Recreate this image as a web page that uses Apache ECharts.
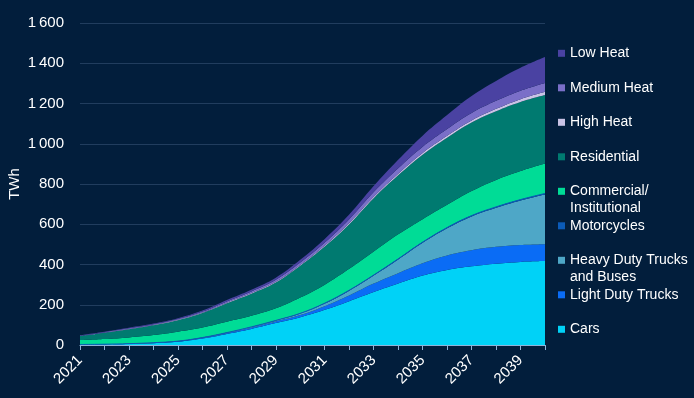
<!DOCTYPE html>
<html>
<head>
<meta charset="utf-8">
<script src="https://cdn.jsdelivr.net/npm/echarts@6/dist/echarts.min.js"></script>
<style>
html,body{margin:0;padding:0;background:#021e3c;}
#chart{width:694px;height:398px;}
</style>
</head>
<body>
<div id="chart"></div>
<script>
const years = ['2021','2022','2023','2024','2025','2026','2027','2028','2029','2030','2031','2032','2033','2034','2035','2036','2037','2038','2039','2040'];
const yTicks = [0, 200, 400, 600, 800, 1000, 1200, 1400, 1600];

const cars            = [2, 3, 5, 9, 16, 32, 55, 80, 109, 138, 175, 218, 263, 305, 345, 373, 391, 404, 413, 417];
const lightDutyTrucks = [0.3, 0.5, 1, 1.5, 2, 3, 4, 6, 8, 11, 18, 28, 42, 52, 61, 72, 80, 84, 84, 84];
const heavyDutyTrucks = [0.2, 0.3, 0.5, 0.7, 1, 1.5, 2, 3, 4, 7, 13, 24, 40, 68, 102, 135, 168, 194, 221, 247];
const motorcycles     = [0.1, 0.1, 0.2, 0.3, 0.4, 0.5, 0.7, 1, 1.2, 1.5, 2, 2.3, 2.7, 3, 3.3, 3.6, 4, 4.3, 4.6, 5];
const commercial      = [22, 26, 31, 38, 47, 50, 54, 55, 60, 78, 92, 106, 117, 122, 114, 113, 122, 134, 142, 149];
const residential     = [20, 31, 41, 49, 57, 72, 92, 110, 128, 158, 189, 222, 265, 293, 320, 333, 340, 341, 343, 340];
const highHeat        = [0.5, 0.5, 1, 1, 1.5, 2, 2.5, 3, 3.5, 4, 5, 6, 7, 8, 9, 10, 11, 12, 14, 16];
const mediumHeat      = [2, 2.5, 3, 3.5, 4, 5, 6.5, 8, 10, 12, 15, 19, 23, 27, 31, 34, 37, 40, 42, 44];
const lowHeat         = [2, 2.5, 3, 3.5, 4, 5, 7, 9, 11, 14, 18, 23, 30, 42, 55, 69, 84, 99, 114, 129];

const seriesDefs = [
  {name: 'Cars', data: cars, color: '#00d2f7', legend: 'Cars'},
  {name: 'Light Duty Trucks', data: lightDutyTrucks, color: '#0a6cf5', legend: 'Light Duty Trucks'},
  {name: 'Heavy Duty Trucks and Buses', data: heavyDutyTrucks, color: '#4ea7c7', legend: '\nHeavy Duty Trucks\nand Buses'},
  {name: 'Motorcycles', data: motorcycles, color: '#0b5bb8', legend: 'Motorcycles', line: 1},
  {name: 'Commercial/Institutional', data: commercial, color: '#00dc96', legend: '\nCommercial/\nInstitutional'},
  {name: 'Residential', data: residential, color: '#007a70', legend: 'Residential'},
  {name: 'High Heat', data: highHeat, color: '#c9c3e6', legend: 'High Heat'},
  {name: 'Medium Heat', data: mediumHeat, color: '#7a6fc8', legend: 'Medium Heat'},
  {name: 'Low Heat', data: lowHeat, color: '#4a42a2', legend: 'Low Heat'}
];

const FONT = 'Arial, "Liberation Sans", sans-serif';

const legendOrder = ['Low Heat','Medium Heat','High Heat','Residential','Commercial/Institutional','Motorcycles','Heavy Duty Trucks and Buses','Light Duty Trucks','Cars'];
const legends = legendOrder.map((name, i) => {
  const def = seriesDefs.find(d => d.name === name);
  const center = 53.3 + i * 34.5;
  const lines = def.legend.split('\n').length;
  return {
    data: [{name: name, icon: 'rect'}],
    orient: 'vertical',
    left: 558,
    top: center - lines * 8.5,
    padding: 0,
    itemWidth: 7,
    itemHeight: 7,
    selectedMode: false,
    formatter: () => def.legend,
    textStyle: {
      color: '#ffffff',
      fontSize: 14,
      fontFamily: FONT,
      lineHeight: 17
    }
  };
});

const chart = echarts.init(document.getElementById('chart'));
chart.setOption({
  backgroundColor: '#021e3c',
  animation: false,
  grid: {left: 80, right: 149, top: 23, bottom: 53, containLabel: false, outerBoundsMode: 'none'},
  legend: legends,
  xAxis: {
    type: 'category',
    data: years,
    boundaryGap: false,
    axisLine: {lineStyle: {color: '#8fb3d9', width: 1}},
    axisTick: {show: true, interval: 0, length: 5, lineStyle: {color: '#8fb3d9'}},
    axisLabel: {interval: 1, rotate: 45, margin: 13, color: '#ffffff', fontSize: 15, fontFamily: FONT},
    splitLine: {show: false}
  },
  yAxis: {
    type: 'value',
    min: yTicks[0],
    max: yTicks[yTicks.length - 1],
    interval: 200,
    name: 'TWh',
    nameLocation: 'middle',
    nameGap: 58,
    nameMoveOverlap: false,
    nameTextStyle: {color: '#ffffff', fontSize: 15, fontFamily: FONT},
    axisLine: {show: false},
    axisTick: {show: false},
    axisLabel: {
      margin: 16,
      color: '#ffffff',
      fontSize: 15,
      fontFamily: FONT,
      formatter: v => v >= 1000 ? Math.floor(v / 1000) + '\u2009' + String(v % 1000).padStart(3, '0') : String(v)
    },
    splitLine: {lineStyle: {color: '#213d5e', width: 1}}
  },
  series: seriesDefs.map(d => ({
    name: d.name,
    type: 'line',
    stack: 'total',
    data: d.data,
    smooth: 0.4,
    symbol: 'none',
    color: d.color,
    lineStyle: {width: d.line || 0, color: d.color},
    areaStyle: {color: d.color, opacity: 1},
    emphasis: {disabled: true}
  }))
});
</script>
</body>
</html>
